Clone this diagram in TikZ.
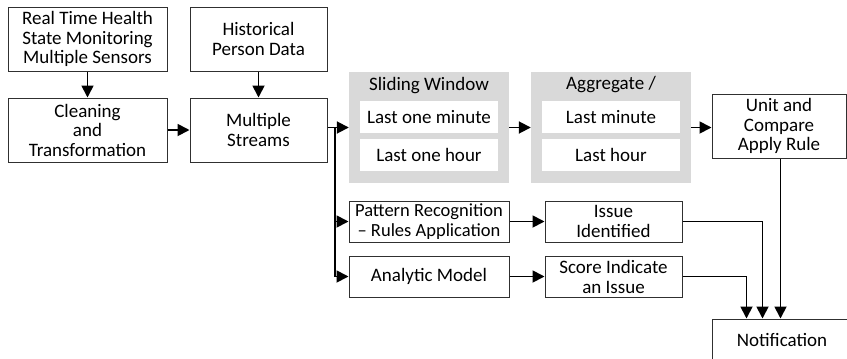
\documentclass[tikz,border=0pt]{standalone}
\usepackage{fontspec}
\setmainfont{Carlito}
\usetikzlibrary{arrows.meta,calc}
\definecolor{boxline}{HTML}{303030}
\definecolor{panel}{HTML}{D9D9D9}
\begin{document}
\begin{tikzpicture}[x=1pt,y=-1pt,
  box/.style={draw=boxline,line width=1pt,fill=white,align=center,inner sep=0pt,
    font=\fontsize{19}{19.5}\selectfont},
  panelbox/.style={fill=panel,draw=none},
  wbox/.style={fill=white,draw=none,align=center,inner sep=0pt,minimum width=138pt,minimum height=32pt,
    font=\fontsize{19}{19.5}\selectfont},
  ptitle/.style={font=\fontsize{19}{19.5}\selectfont,inner sep=0pt},
  arr/.style={line width=1.8pt,-{Triangle[length=12pt,width=12pt]}},
  ln/.style={line width=1.8pt}]
\useasboundingbox (0,0) rectangle (847,359);
% top row
\node[box,minimum width=159pt,minimum height=64pt] (A) at (87.5,39) {Real Time Health\\State Monitoring\\Multiple Sensors};
\node[box,minimum width=137pt,minimum height=64pt] (B) at (258.5,39) {Historical\\Person Data};
\node[box,minimum width=159pt,minimum height=64pt] (C) at (87.5,130) {Cleaning\\and\\Transformation};
\node[box,minimum width=137pt,minimum height=64pt] (D) at (258.5,130) {Multiple\\Streams};
% panels
\node[panelbox,minimum width=160pt,minimum height=111pt] (SW) at (429,127.5) {};
\node[ptitle] (SWt) at (429,86) {Sliding Window};
\node[wbox] (SW1) at (429,117) {Last one minute};
\node[wbox] (SW2) at (429,155) {Last one hour};
\node[panelbox,minimum width=160pt,minimum height=111pt] (AG) at (611,127.5) {};
\node[ptitle] (AGt) at (611,85) {Aggregate /};
\node[wbox] (AG1) at (611,117) {Last minute};
\node[wbox] (AG2) at (611,155) {Last hour};
\node[box,minimum width=134pt,minimum height=64pt] (U) at (779,126) {Unit and\\Compare\\Apply Rule};
% lower rows
\node[box,minimum width=160pt,minimum height=41pt,font=\fontsize{18.5}{20}\selectfont] (P) at (429,221.5) {Pattern Recognition\\– Rules Application};
\node[box,minimum width=137pt,minimum height=41pt,font=\fontsize{19}{20}\selectfont] (I) at (613.5,221.5) {Issue\\Identified};
\node[box,minimum width=160pt,minimum height=41pt] (M) at (429,276.5) {Analytic Model};
\node[box,minimum width=137pt,minimum height=41pt,font=\fontsize{19}{20}\selectfont] (S) at (613.5,276.5) {Score Indicate\\an Issue};
\node[box,minimum width=140pt,minimum height=42pt] (N) at (782,340) {Notification};
% connectors
\draw[arr] (A) -- (C);
\draw[arr] (B) -- (D);
\draw[arr] (C) -- (D);
\draw[arr] (D.east |- SW.west) -- (SW.west);
\draw[arr] (SW.east) -- (AG.west);
\draw[arr] (AG.east) -- (U.west |- AG.east);
\coordinate (j) at (335,127.5);
\draw[arr] (j) |- (P.west);
\draw[arr] (j) |- (M.west);
\draw[arr] (P) -- (I);
\draw[arr] (M) -- (S);
\coordinate (n1) at ([xshift=35pt]N.north west);
\coordinate (n2) at ([xshift=51pt]N.north west);
\coordinate (n3) at ([xshift=69pt]N.north west);
\draw[arr] (S.east) -| (n1);
\draw[arr] (I.east) -| (n2);
\draw[arr] (U.south -| n3) -- (n3);
\end{tikzpicture}
\end{document}
